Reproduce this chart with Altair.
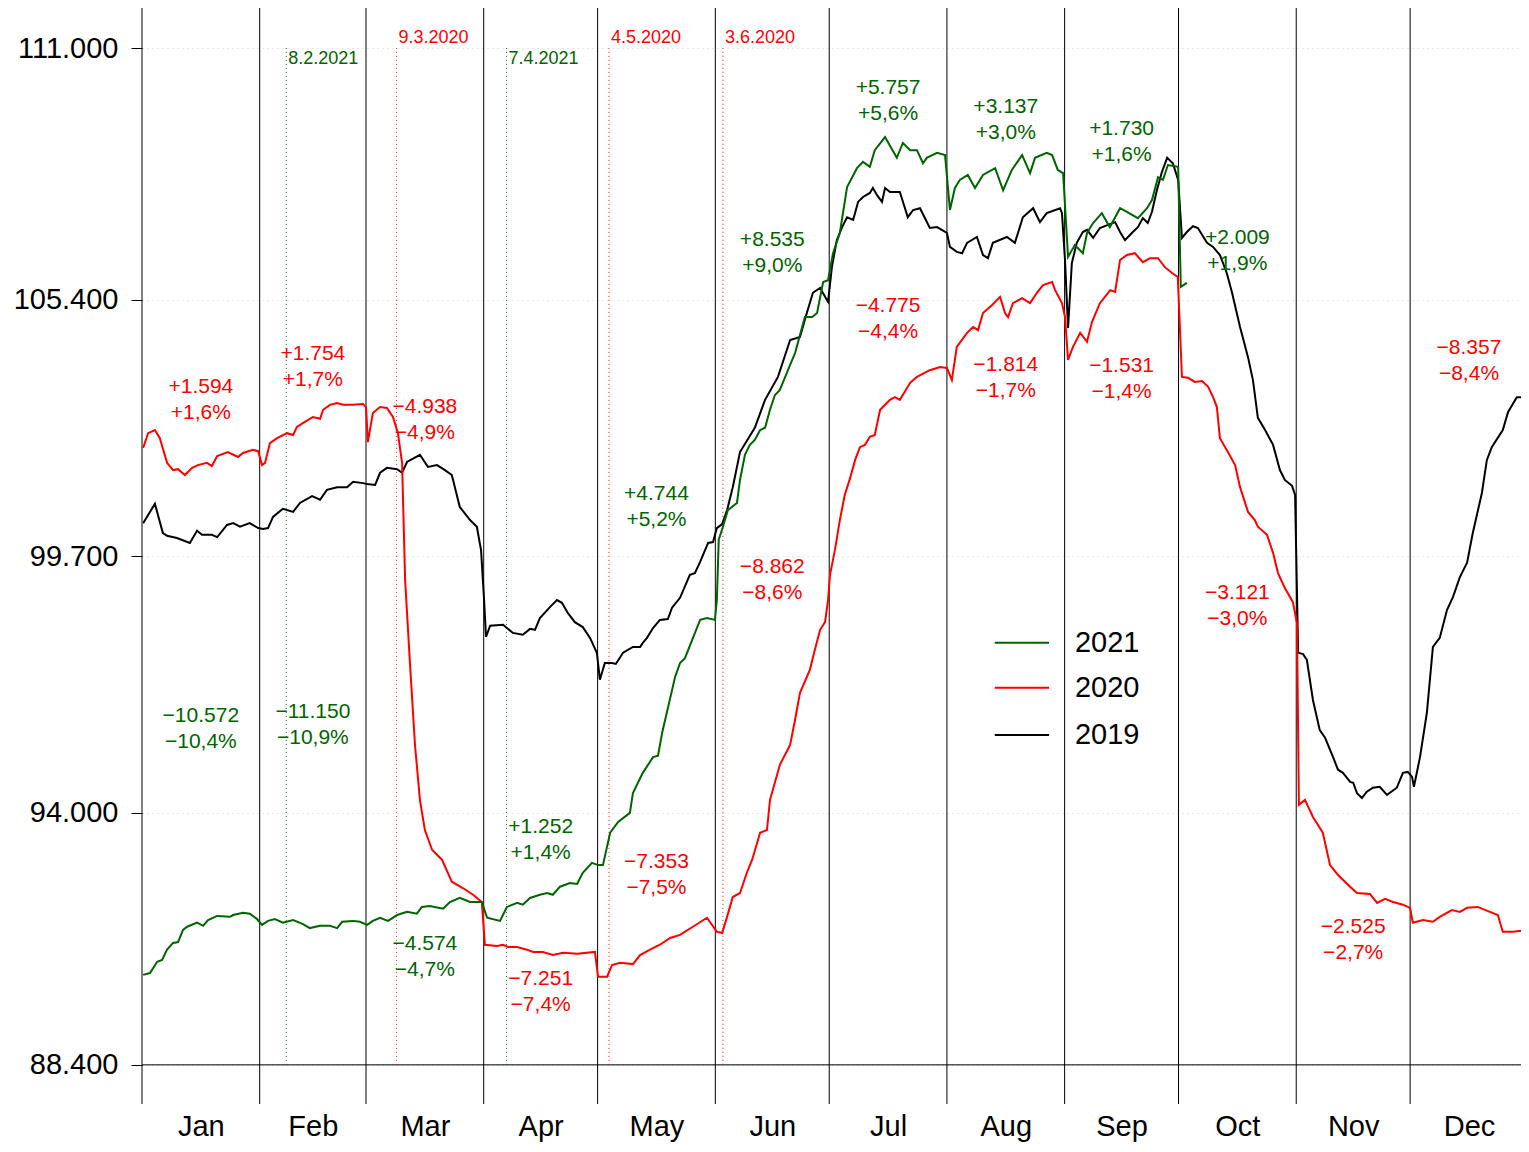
import json
import altair as alt
import pandas as pd

# ---------------- data (values in thousands, x = day of year offset) ----------------
d19 = [0.3,3.4,5.5,6.6,9.2,12.6,14.5,15.8,18.4,19.8,
       22.4,24.0,25.8,28.4,30.6,31.9,33.2,34.5,37.1,39.8,
       41.6,44.8,46.9,48.7,51.4,54.0,55.6,58.2,59.3,61.4,
       62.7,64.5,67.2,68.5,69.8,73.2,75.3,77.7,79.8,81.6,
       83.7,86.4,88.2,89.3,90.1,90.6,91.7,95.1,96.1,97.7,
       100.3,102.2,103.5,104.8,107.5,109.3,110.6,112.2,114.0,116.1,
       118.0,119.8,120.6,121.9,123.8,124.8,126.7,129.3,131.2,131.9,
       133.0,134.6,136.4,138.5,139.6,141.7,144.3,145.6,147.0,149.1,
       150.4,151.4,152.8,154.1,155.6,157.5,161.4,164.1,167.5,170.7,
       173.3,175.1,176.7,178.6,179.9,180.7,181.7,183.0,184.4,185.7,
       187.3,188.6,189.9,191.7,192.5,193.6,194.9,195.7,197.0,199.6,
       201.7,203.1,204.9,207.5,209.4,212.0,212.8,214.6,216.0,217.3,
       219.9,221.5,222.8,224.1,227.8,229.9,232.0,234.7,236.5,238.3,
       241.8,242.3,243.1,243.9,244.9,246.2,247.8,248.9,250.5,252.3,
       254.4,256.3,257.6,258.9,260.7,262.3,263.6,264.9,266.0,267.3,
       268.6,270.0,271.5,272.9,273.9,275.2,276.8,278.1,280.5,282.1,
       283.9,285.7,287.1,289.2,291.3,292.6,293.9,295.8,297.9,299.7,
       301.0,302.9,303.7,304.5,305.8,306.8,308.4,310.2,311.6,313.7,
       315.0,316.3,318.2,319.0,320.0,321.3,322.6,324.2,326.0,327.9,
       330.5,332.1,333.4,334.5,335.0,336.6,338.4,340.0,341.8,343.7,
       345.3,347.1,349.0,350.5,352.9,354.2,355.5,358.4,359.8,362.1,
       363.7,365.0]
v19 = [100.44,100.87,100.22,100.16,100.11,100.00,100.27,100.18,100.18,100.13,
       100.40,100.44,100.36,100.44,100.33,100.31,100.33,100.58,100.76,100.69,
       100.89,101.04,100.96,101.18,101.24,101.24,101.36,101.33,101.31,101.29,
       101.56,101.67,101.64,101.56,101.80,101.96,101.69,101.73,101.62,101.51,
       100.80,100.51,100.36,99.84,98.73,97.91,98.16,98.18,98.11,98.00,
       97.96,98.09,98.07,98.33,98.58,98.73,98.67,98.44,98.24,98.13,
       97.89,97.56,96.96,97.33,97.33,97.31,97.56,97.69,97.69,97.78,
       97.89,98.11,98.29,98.31,98.56,98.78,99.29,99.33,99.58,100.00,
       100.02,100.33,100.42,100.73,101.24,102.02,102.56,103.18,103.69,104.51,
       104.58,105.11,105.56,105.67,105.47,105.36,106.13,106.73,107.02,107.24,
       107.18,107.58,107.69,107.78,107.89,107.73,107.58,107.89,107.80,107.80,
       107.24,107.40,107.44,107.00,107.02,106.89,106.58,106.47,106.44,106.67,
       106.80,106.40,106.33,106.67,106.80,106.67,107.24,107.44,107.13,107.33,
       107.44,107.33,106.29,104.78,106.22,106.67,106.91,106.96,106.78,107.00,
       107.07,107.13,106.91,106.73,106.89,107.02,107.22,107.11,107.36,107.84,
       108.24,108.56,108.44,108.07,106.78,106.91,107.04,107.00,106.67,106.58,
       106.40,106.00,105.56,104.80,104.13,103.62,102.78,102.51,102.18,101.62,
       101.40,101.27,101.07,97.56,97.53,97.40,96.51,95.84,95.67,95.24,
       94.96,94.89,94.69,94.67,94.44,94.33,94.47,94.56,94.58,94.40,
       94.56,94.89,94.91,94.80,94.58,95.24,96.22,97.69,97.89,98.51,
       98.80,99.24,99.56,100.22,101.11,101.84,102.13,102.51,102.91,103.24,
       103.24,103.18]

d20 = [0.3,1.6,3.4,4.7,6.6,8.2,9.5,11.3,13.2,14.7,
       17.1,18.4,19.8,22.6,25.3,26.6,29.2,30.6,31.6,32.4,
       33.7,35.6,38.2,39.8,40.8,42.9,45.0,46.9,47.7,49.5,
       51.4,52.9,55.6,58.2,59.0,59.5,60.8,62.7,64.5,66.1,
       67.4,68.5,69.3,70.6,71.9,73.2,74.5,76.4,79.0,81.6,
       84.5,87.2,89.5,90.3,93.5,95.1,96.4,98.8,101.4,103.0,
       105.6,108.2,110.9,114.6,119.3,120.1,122.5,123.8,125.9,129.3,
       131.2,133.8,136.4,139.1,141.7,145.1,148.8,151.4,152.8,154.1,
       155.6,157.5,159.3,160.7,162.8,164.6,165.4,168.0,170.7,172.0,
       173.3,175.9,177.2,178.6,179.9,180.7,181.2,182.5,183.8,185.1,
       186.5,187.8,189.1,190.4,191.7,193.0,194.4,195.7,197.0,198.3,
       199.6,200.9,202.3,204.1,207.5,210.2,212.0,213.3,214.6,217.3,
       218.9,220.2,221.5,223.9,226.0,227.3,228.1,229.4,231.8,233.9,
       235.7,237.3,239.7,240.5,242.3,243.1,243.9,245.2,247.1,248.9,
       250.2,252.3,255.0,256.3,257.6,259.4,261.5,263.6,265.5,267.6,
       269.4,271.3,272.8,273.9,275.5,277.3,279.2,280.8,282.1,283.1,
       283.9,286.0,287.9,289.2,291.3,293.1,293.9,296.3,297.9,299.2,
       301.0,303.1,304.2,304.7,306.3,308.4,311.0,312.9,315.0,318.2,
       320.0,323.4,325.3,327.4,329.5,332.1,334.0,334.7,337.4,340.0,
       341.8,345.0,347.1,349.0,351.8,355.0,357.1,358.4,361.1,364.8]
v20 = [102.11,102.44,102.51,102.33,101.78,101.62,101.64,101.51,101.67,101.73,
       101.78,101.71,101.93,102.02,101.91,102.00,102.07,102.04,101.73,101.78,
       102.22,102.33,102.44,102.40,102.58,102.69,102.80,102.76,102.96,103.07,
       103.11,103.07,103.07,103.09,103.02,102.24,102.89,103.02,103.00,102.80,
       102.44,101.78,99.18,97.29,95.51,94.29,93.62,93.18,92.96,92.47,
       92.33,92.18,92.02,91.07,91.04,91.07,91.02,91.02,90.96,90.91,
       90.91,90.84,90.89,90.87,90.91,90.36,90.36,90.62,90.67,90.64,
       90.84,90.96,91.07,91.22,91.29,91.47,91.67,91.36,91.33,91.69,
       92.13,92.22,92.67,92.96,93.56,93.62,94.29,95.07,95.51,96.07,
       96.67,97.18,97.62,98.07,98.24,98.73,99.29,99.84,100.51,101.07,
       101.44,101.84,102.13,102.18,102.36,102.40,102.96,103.07,103.18,103.24,
       103.18,103.36,103.56,103.69,103.84,103.91,103.89,103.62,104.36,104.67,
       104.80,104.73,105.11,105.29,105.47,105.11,105.02,105.33,105.44,105.33,
       105.56,105.73,105.80,105.62,105.33,105.02,104.07,104.36,104.67,104.47,
       104.91,105.33,105.62,105.58,106.29,106.40,106.44,106.24,106.33,106.33,
       106.13,106.00,105.91,103.69,103.67,103.58,103.60,103.47,103.24,103.02,
       102.33,102.02,101.73,101.24,100.69,100.51,100.36,100.18,99.78,99.33,
       99.00,98.69,98.22,94.18,94.29,93.91,93.56,92.84,92.62,92.36,
       92.22,92.20,92.00,92.09,92.02,91.96,91.89,91.56,91.62,91.58,
       91.69,91.84,91.80,91.89,91.91,91.80,91.73,91.36,91.36,91.40]

d21 = [0.3,2.1,4.0,5.3,6.6,8.2,9.5,10.8,11.9,14.5,
       16.1,17.4,19.8,23.2,24.0,26.6,28.4,30.3,31.6,33.2,
       35.0,37.1,39.8,42.4,44.2,46.9,49.5,51.4,52.7,55.6,
       57.4,59.3,60.8,62.7,64.8,67.2,69.8,72.4,73.7,75.8,
       79.3,81.1,83.7,86.4,89.5,90.9,94.3,96.1,98.8,100.3,
       102.2,104.8,106.7,108.2,110.1,112.7,114.6,116.1,118.5,120.1,
       121.4,123.3,125.4,128.5,129.3,131.9,134.6,135.9,137.0,140.4,
       141.7,143.0,147.0,148.8,150.9,151.4,151.9,153.0,154.3,156.7,
       157.5,158.8,160.1,161.4,162.8,164.1,165.4,166.7,168.0,169.3,
       170.7,172.0,174.6,176.5,177.8,179.4,180.7,182.0,183.8,185.7,
       188.3,189.9,191.7,193.0,195.7,198.8,200.4,202.3,204.1,205.7,
       206.7,209.4,211.5,212.8,214.1,215.4,217.5,219.4,221.5,224.7,
       226.8,229.1,231.8,233.9,235.2,238.3,239.7,241.2,242.6,243.9,
       245.7,247.8,248.9,250.5,252.8,254.9,257.6,259.4,262.3,264.7,
       266.0,267.6,268.9,270.2,272.9,273.6,275.2]
v21 = [90.40,90.44,90.69,90.73,90.96,91.11,91.13,91.40,91.47,91.56,
       91.49,91.62,91.71,91.69,91.73,91.78,91.76,91.64,91.51,91.60,
       91.64,91.56,91.62,91.53,91.44,91.49,91.49,91.44,91.58,91.60,
       91.58,91.51,91.60,91.67,91.60,91.73,91.80,91.76,91.91,91.93,
       91.87,92.02,92.11,92.02,92.02,91.67,91.60,91.91,92.00,91.96,
       92.11,92.18,92.22,92.18,92.36,92.44,92.42,92.67,92.89,92.84,
       92.84,93.56,93.80,94.00,94.44,94.89,95.24,95.27,95.78,97.02,
       97.33,97.44,98.29,98.33,98.29,98.73,100.07,100.36,100.73,100.89,
       101.40,101.96,102.18,102.29,102.51,102.56,102.96,103.29,103.40,103.67,
       103.96,104.22,105.02,105.02,105.11,105.80,105.84,106.44,106.89,107.91,
       108.33,108.47,108.36,108.73,109.02,108.56,108.89,108.73,108.73,108.44,
       108.56,108.67,108.62,107.40,107.89,108.07,108.18,107.89,108.18,108.33,
       107.84,108.29,108.62,108.22,108.56,108.67,108.62,108.29,108.22,106.36,
       106.62,106.44,106.89,107.11,107.33,107.02,107.44,107.36,107.22,107.44,
       107.62,108.13,108.07,108.40,108.36,105.69,105.78]

years = ["2021", "2020", "2019"]
year_colors = ["#006400", "#ff0000", "#000000"]

months = ["Jan", "Feb", "Mar", "Apr", "May", "Jun", "Jul", "Aug", "Sep", "Oct", "Nov", "Dec"]
month_starts = [0, 31, 59, 90, 120, 151, 181, 212, 243, 273, 304, 334, 365]
month_mid = [(month_starts[i] + month_starts[i + 1]) / 2 for i in range(12)]

y_ticks = [88.4, 94.0, 99.7, 105.4, 111.0]

# monthly differences: month index, series, value text, percent text
ann_month = [0, 0, 1, 1, 2, 2, 3, 3, 4, 4, 5, 5, 6, 6, 7, 7, 8, 8, 9, 9, 10, 11]
ann_year = ["2020", "2021", "2020", "2021", "2020", "2021", "2021", "2020", "2021", "2020",
            "2021", "2020", "2021", "2020", "2021", "2020", "2021", "2020", "2021", "2020",
            "2020", "2020"]
ann_abs = ["+1.594", "\u221210.572", "+1.754", "\u221211.150", "\u22124.938", "\u22124.574",
           "+1.252", "\u22127.251", "+4.744", "\u22127.353", "+8.535", "\u22128.862",
           "+5.757", "\u22124.775", "+3.137", "\u22121.814", "+1.730", "\u22121.531",
           "+2.009", "\u22123.121", "\u22122.525", "\u22128.357"]
ann_pct = ["+1,6%", "\u221210,4%", "+1,7%", "\u221210,9%", "\u22124,9%", "\u22124,7%",
           "+1,4%", "\u22127,4%", "+5,2%", "\u22127,5%", "+9,0%", "\u22128,6%",
           "+5,6%", "\u22124,4%", "+3,0%", "\u22121,7%", "+1,6%", "\u22121,4%",
           "+1,9%", "\u22123,0%", "\u22122,7%", "\u22128,4%"]
ann_level = [103.47, 96.16, 104.20, 96.24, 103.02, 91.09, 93.69, 90.31, 101.09, 92.91,
             106.73, 99.47, 110.11, 105.27, 109.69, 103.96, 109.20, 103.93, 106.78, 98.89,
             91.47, 104.33]

# marked dates
mark_day = [38, 67, 96, 123, 153]
mark_text = ["8.2.2021", "9.3.2020", "7.4.2021", "4.5.2020", "3.6.2020"]
mark_year = ["2021", "2020", "2021", "2020", "2020"]

# legend placement (data coordinates)
leg_x1, leg_x2, leg_text_x = 224.6, 238.9, 245.7
leg_levels = [97.78, 96.78, 95.73]

# ---------------- tables ----------------
series = pd.concat([
    pd.DataFrame({"day": d19, "value": v19, "year": "2019"}),
    pd.DataFrame({"day": d20, "value": v20, "year": "2020"}),
    pd.DataFrame({"day": d21, "value": v21, "year": "2021"}),
], ignore_index=True)

ann = pd.DataFrame({
    "day": [month_mid[m] for m in ann_month],
    "value": ann_level,
    "year": ann_year,
    "abs": ann_abs,
    "pct": ann_pct,
})
marks = pd.DataFrame({"day": mark_day, "text": mark_text, "year": mark_year,
                      "lo": 88.4, "hi": 111.0})
mlines = pd.DataFrame({"day": month_starts[:-1]})
legend = pd.DataFrame({"day": leg_x1, "day2": leg_x2, "tx": leg_text_x,
                       "value": leg_levels, "year": years})

FONT = "Liberation Sans"

label_expr = "%s[indexof(%s, datum.value)]" % (json.dumps(months), json.dumps(month_mid))
# the page leaves 1379 px for the year: show up to day 363.2 at the reference's scale
xscale = alt.Scale(domain=[0, 363.2], nice=False, zero=False)
yscale = alt.Scale(domain=[87.53, 111.89], nice=False, zero=False)
xaxis = alt.Axis(values=month_mid, labelExpr=label_expr, ticks=False, domain=False,
                 grid=False, labelFontSize=29, labelPadding=8, labelColor="black",
                 labelFont=FONT, labelFlush=False, labelOverlap=False, labelBound=False)
yaxis = alt.Axis(values=y_ticks, labelExpr="format(datum.value, '.3f')", tickSize=11,
                 tickColor="black", domain=False, grid=True, gridColor="#cfcfcf",
                 gridDash=[1, 4], labelFontSize=29, labelPadding=13, labelColor="black",
                 labelFont=FONT)


def X(f):
    return alt.X(f, scale=xscale, axis=xaxis, title=None)


def Y(f):
    return alt.Y(f, scale=yscale, axis=yaxis, title=None)


color = alt.Color("year:N", scale=alt.Scale(domain=years, range=year_colors), legend=None)

month_rules = alt.Chart(mlines).mark_rule(color="black", strokeWidth=1).encode(x=X("day:Q"))

base_rule = alt.Chart(pd.DataFrame({"value": [88.4]})).mark_rule(
    color="black", strokeWidth=1).encode(y=Y("value:Q"))

date_rules = alt.Chart(marks).mark_rule(strokeWidth=1, strokeDash=[1, 3]).encode(
    x=X("day:Q"), y=Y("lo:Q"), y2="hi:Q", color=color)

date_lbl_top = alt.Chart(marks).transform_filter("datum.year == '2020'").mark_text(
    align="left", baseline="bottom", dx=2, dy=-1, fontSize=18, font=FONT).encode(
    x=X("day:Q"), y=Y("hi:Q"), text="text:N", color=color)
date_lbl_bot = alt.Chart(marks).transform_filter("datum.year == '2021'").mark_text(
    align="left", baseline="top", dx=2, dy=2, fontSize=18, font=FONT).encode(
    x=X("day:Q"), y=Y("hi:Q"), text="text:N", color=color)

lines = alt.Chart(series).mark_line(strokeWidth=2).encode(
    x=X("day:Q"), y=Y("value:Q"), color=color, order="day:Q",
    detail="year:N")

ann1 = alt.Chart(ann).mark_text(fontSize=21, font=FONT, baseline="middle").encode(
    x=X("day:Q"), y=Y("value:Q"), text="abs:N", color=color)
ann2 = alt.Chart(ann).mark_text(fontSize=21, font=FONT, baseline="middle", dy=26).encode(
    x=X("day:Q"), y=Y("value:Q"), text="pct:N", color=color)

leg_lines = alt.Chart(legend).mark_rule(strokeWidth=2).encode(
    x=X("day:Q"), x2="day2:Q", y=Y("value:Q"), color=color)
leg_text = alt.Chart(legend).mark_text(align="left", baseline="middle", fontSize=29,
                                       font=FONT, color="black").encode(
    x=X("tx:Q"), y=Y("value:Q"), text="year:N")

chart = alt.layer(
    month_rules, base_rule, date_rules, date_lbl_top, date_lbl_bot,
    lines, ann1, ann2, leg_lines, leg_text
).properties(
    width=1379, height=1096,
    autosize=alt.AutoSizeParams(type="none"),
    padding={"left": 134, "top": 0, "right": 0, "bottom": 39},
).configure_view(stroke=None)

chart.save("out.html", embed_options={"renderer": "svg", "actions": False})
